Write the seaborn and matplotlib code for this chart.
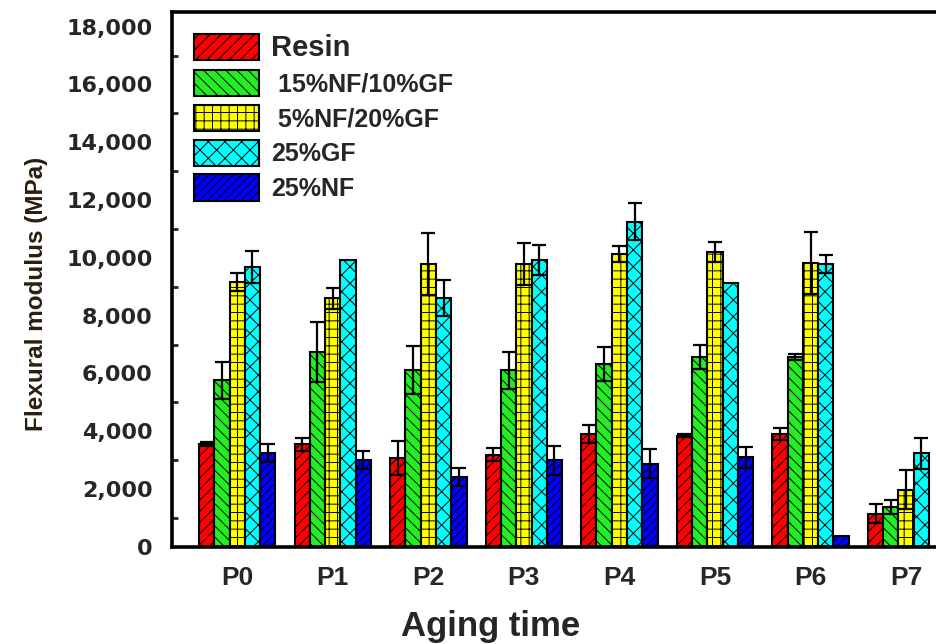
import numpy as np
import pandas as pd
import matplotlib
matplotlib.use('Agg')
import matplotlib.pyplot as plt
import seaborn as sns

# Data (MPa)
aging = ['P0', 'P1', 'P2', 'P3', 'P4', 'P5', 'P6', 'P7']
series = ['Resin', ' 15%NF/10%GF', ' 5%NF/20%GF', '25%GF', '25%NF']

resin = [3550, 3540, 3060, 3190, 3890, 3850, 3890, 1150]
nf15_gf10 = [5760, 6740, 6110, 6110, 6320, 6560, 6560, 1390]
nf5_gf20 = [9170, 8600, 9790, 9790, 10140, 10210, 9830, 1980]
gf25 = [9690, 9930, 8610, 9930, 11250, 9130, 9790, 3230]
nf25 = [3230, 2990, 2430, 2990, 2880, 3090, 380, 0]

resin_err = [60, 210, 590, 230, 310, 60, 210, 340]
nf15_gf10_err = [630, 1040, 830, 640, 590, 420, 100, 240]
nf5_gf20_err = [310, 360, 1080, 730, 280, 350, 1070, 660]
gf25_err = [550, 0, 630, 520, 650, 0, 310, 550]
nf25_err = [310, 310, 310, 510, 490, 350, 0, 0]

values = [resin, nf15_gf10, nf5_gf20, gf25, nf25]
errors = [resin_err, nf15_gf10_err, nf5_gf20_err, gf25_err, nf25_err]
colors = ['#ff0000', '#22ee22', '#ffff00', '#00ffff', '#0000ff']
hatches = ['///', '\\\\\\', '++', 'xx', '////']

df = pd.DataFrame({
    'Aging time': aging * len(series),
    'Series': np.repeat(series, len(aging)),
    'Modulus': np.concatenate(values),
})

sns.set_theme(style='white')
plt.rcParams['hatch.linewidth'] = 0.7
plt.rcParams['font.family'] = ['Liberation Sans', 'DejaVu Sans']

fig = plt.figure(figsize=(9.36, 6.44), dpi=100)
ax = fig.add_axes([0.184, 0.151, 0.83, 0.830])

sns.barplot(data=df, x='Aging time', y='Modulus', hue='Series',
            hue_order=series, order=aging, palette=colors, saturation=1,
            width=0.8, edgecolor='black', linewidth=1.5, ax=ax)

bar_groups = list(ax.containers)
for i, cont in enumerate(bar_groups):
    xs, ys, es = [], [], []
    for j, bar in enumerate(cont.patches):
        bar.set_hatch(hatches[i])
        bar.set_edgecolor('black')
        if errors[i][j] > 0:
            xs.append(bar.get_x() + bar.get_width() / 2)
            ys.append(values[i][j])
            es.append(errors[i][j])
    ax.errorbar(xs, ys, yerr=es, fmt='none', ecolor='black',
                elinewidth=1.6, capsize=5, capthick=1.6, zorder=5)

ax.set_xlim(-0.68, 7.45)
ax.set_ylim(0, 18500)
ax.set_yticks(range(0, 18001, 2000))
ax.set_yticks(range(1000, 18000, 2000), minor=True)
ax.set_yticklabels([f'{v:,}' for v in range(0, 18001, 2000)],
                   fontsize=16, fontweight='bold', family='DejaVu Sans')
ax.tick_params(axis='y', which='major', direction='in', length=6, width=2, pad=14)
ax.tick_params(axis='y', which='minor', direction='in', length=4, width=2, left=True)
ax.tick_params(axis='x', length=0, pad=14)
for lbl in ax.get_xticklabels():
    lbl.set_fontsize(19)
    lbl.set_fontweight('bold')

for side in ['left', 'top', 'bottom']:
    ax.spines[side].set_linewidth(2.6)
    ax.spines[side].set_color('black')
ax.spines['right'].set_visible(False)

ax.set_ylabel('Flexural modulus (MPa)', fontsize=17.5, fontweight='bold',
              color='#2a1e10')
ax.yaxis.set_label_coords(-0.16, 0.473)
ax.set_xlabel('Aging time', fontsize=25, fontweight='bold')
ax.xaxis.set_label_coords(0.41, -0.118)

ax.get_legend().remove()
handles = [cont.patches[0] for cont in bar_groups]
leg = ax.legend(handles, series, loc='upper left',
                bbox_to_anchor=(0.028, 0.96), frameon=False, borderpad=0,
                borderaxespad=0, prop={'weight': 'bold', 'size': 18},
                handlelength=2.6, handleheight=1.25, labelspacing=0.33,
                handletextpad=0.5)
leg.get_texts()[0].set_fontsize(21)

fig.savefig('out.png', dpi=100)
